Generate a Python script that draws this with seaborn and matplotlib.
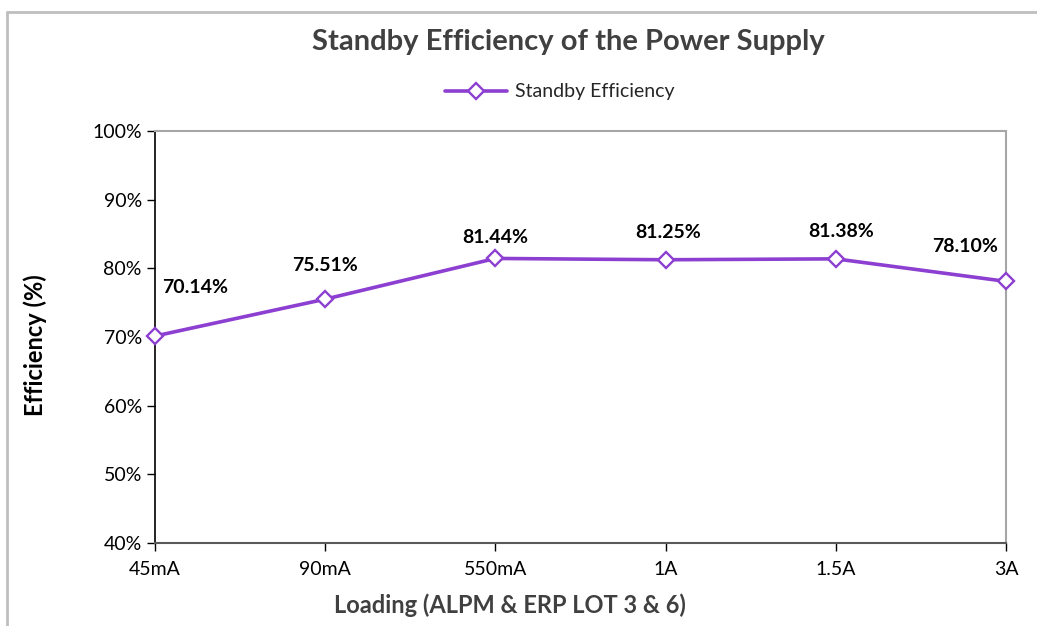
import numpy as np
import pandas as pd
import matplotlib
matplotlib.use('Agg')
import matplotlib.pyplot as plt
import seaborn as sns
from matplotlib.lines import Line2D
from matplotlib.ticker import PercentFormatter

loads = ['45mA', '90mA', '550mA', '1A', '1.5A', '3A']
efficiency = [0.7014, 0.7551, 0.8144, 0.8125, 0.8138, 0.7810]
label_text = ['70.14%', '75.51%', '81.44%', '81.25%', '81.38%', '78.10%']

# label offsets in pixels from each point (as placed in the original)
label_offsets = [(40, 49), (0, 34), (0, 21), (3, 27), (5, 27), (-41, 35)]

sns.set_style('white')
plt.rcParams['font.family'] = ['Lato', 'DejaVu Sans']

purple = '#8C3FD0'

df = pd.DataFrame({'pos': np.arange(len(loads)), 'eff': efficiency})

fig = plt.figure(figsize=(10.37, 6.26), dpi=100)
ax = fig.add_axes([155 / 1037, 1 - 543 / 626, (1006 - 155) / 1037, (543 - 131) / 626])

sns.lineplot(data=df, x='pos', y='eff', ax=ax, color=purple, linewidth=2.6,
             marker='D', markersize=8.5, markerfacecolor='white',
             markeredgecolor=purple, markeredgewidth=1.7,
             label='Standby Efficiency', clip_on=False, zorder=5)

for x, y, t, (dx, dy) in zip(df['pos'], efficiency, label_text, label_offsets):
    ax.annotate(t, (x, y), xytext=(dx, dy), textcoords='offset pixels',
                ha='center', va='center', fontsize=14, fontweight='bold', color='black')

ax.set_xlim(0, len(loads) - 1)
ax.set_ylim(0.4, 1.0)
ax.set_yticks(np.arange(0.4, 1.01, 0.1))
ax.yaxis.set_major_formatter(PercentFormatter(1.0, decimals=0))
ax.set_xticks(df['pos'])
ax.set_xticklabels(loads)

for side in ['top', 'right']:
    ax.spines[side].set_color('#A6A6A6')
    ax.spines[side].set_linewidth(1.5)
ax.spines['left'].set_color('black')
ax.spines['left'].set_linewidth(1.2)
ax.spines['bottom'].set_color('#595959')
ax.spines['bottom'].set_linewidth(1.5)

ax.tick_params(axis='both', direction='out', length=6, width=1, labelsize=14,
               colors='black', bottom=True, left=True)
ax.tick_params(axis='x', pad=7)

ax.set_xlabel('Loading (ALPM & ERP LOT 3 & 6)', fontsize=17, fontweight='bold',
              color='#404040', va='center')
ax.xaxis.set_label_coords(0.417, -0.151)
ax.set_ylabel('Efficiency (%)', fontsize=17, fontweight='bold', color='black', va='center')
ax.yaxis.set_label_coords(-0.141, 0.48)
ax.grid(False)

fig.text(568 / 1037, 1 - 42 / 626, 'Standby Efficiency of the Power Supply',
         ha='center', va='center', fontsize=21, fontweight='bold', color='#404040')

leg = ax.legend(loc='center', bbox_to_anchor=(560 / 1037, 1 - 92 / 626),
                bbox_transform=fig.transFigure, frameon=False, fontsize=14,
                handlelength=3.2, handletextpad=0.4)

# outer chart frame
fig.add_artist(Line2D([7 / 1037, 7 / 1037], [0, 1 - 12 / 626], transform=fig.transFigure,
                      color='#BFBFBF', linewidth=2))
fig.add_artist(Line2D([7 / 1037, 1], [1 - 12 / 626, 1 - 12 / 626], transform=fig.transFigure,
                      color='#BFBFBF', linewidth=2))

fig.savefig('out.png', dpi=100)
